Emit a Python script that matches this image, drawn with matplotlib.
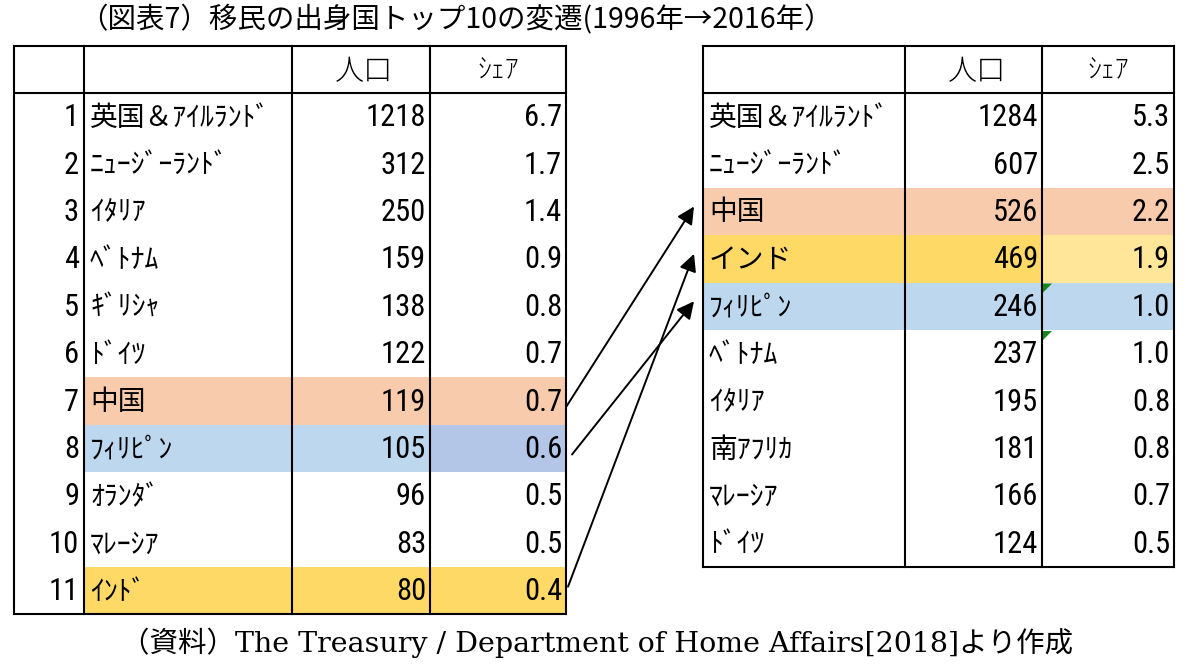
import matplotlib.pyplot as plt
from matplotlib.patches import Rectangle, Polygon

# -----------------------------
# Data
# -----------------------------
title = "（図表7）移民の出身国トップ10の変遷(1996年→2016年）"
source = "（資料）The Treasury / Department of Home Affairs[2018]より作成"
header_pop = "人口"
header_share = "ｼｪｱ"

ranks_1996 = [1, 2, 3, 4, 5, 6, 7, 8, 9, 10, 11]
names_1996 = ["英国＆ｱｲﾙﾗﾝﾄﾞ", "ﾆｭｰｼﾞｰﾗﾝﾄﾞ", "ｲﾀﾘｱ", "ﾍﾞﾄﾅﾑ", "ｷﾞﾘｼｬ", "ﾄﾞｲﾂ",
              "中国", "ﾌｨﾘﾋﾟﾝ", "ｵﾗﾝﾀﾞ", "ﾏﾚｰｼｱ", "ｲﾝﾄﾞ"]
pop_1996 = [1218, 312, 250, 159, 138, 122, 119, 105, 96, 83, 80]
share_1996 = [6.7, 1.7, 1.4, 0.9, 0.8, 0.7, 0.7, 0.6, 0.5, 0.5, 0.4]

names_2016 = ["英国＆ｱｲﾙﾗﾝﾄﾞ", "ﾆｭｰｼﾞｰﾗﾝﾄﾞ", "中国", "インド", "ﾌｨﾘﾋﾟﾝ", "ﾍﾞﾄﾅﾑ",
              "ｲﾀﾘｱ", "南ｱﾌﾘｶ", "ﾏﾚｰｼｱ", "ﾄﾞｲﾂ"]
pop_2016 = [1284, 607, 526, 469, 246, 237, 195, 181, 166, 124]
share_2016 = [5.3, 2.5, 2.2, 1.9, 1.0, 1.0, 0.8, 0.8, 0.7, 0.5]

# which 1996 row moved to which 2016 row (0-based)
links = [(6, 2), (7, 4), (10, 3)]

# -----------------------------
# Styles
# -----------------------------
ORANGE = "#F8CBAD"
BLUE = "#BDD7EE"
BLUE2 = "#B4C6E7"
YELLOW = "#FFD966"
YELLOW2 = "#FFE699"

# row -> colours for (name, pop, share)
hl_1996 = {6: (ORANGE, ORANGE, ORANGE), 7: (BLUE, BLUE, BLUE2), 10: (YELLOW, YELLOW, YELLOW)}
hl_2016 = {2: (ORANGE, ORANGE, ORANGE), 3: (YELLOW, YELLOW, YELLOW2), 4: (BLUE, BLUE, BLUE)}
flag_rows_2016 = [4, 5]  # excel green corner marks in share column

JP = ["Noto Sans CJK JP", "DejaVu Sans"]
NUM = ["Roboto Condensed", "Noto Sans CJK JP", "DejaVu Sans"]
SERIF = ["DejaVu Serif", "Noto Sans CJK JP"]

# layout (pixels)
LEFT_X = [14, 84, 292, 430, 566]
RIGHT_X = [703, 905, 1042, 1174]
TOP = 46
HEAD = 93
ROW_H = 47.4
LW = 1.5

fig = plt.figure(figsize=(12, 6.67), dpi=100)
ax = fig.add_axes([0, 0, 1, 1])
ax.set_xlim(0, 1200)
ax.set_ylim(667, 0)
ax.axis("off")


def row_y(i):
    return HEAD + (i + 0.5) * ROW_H


def draw_table(xs, names, pops, shares, highlights, ranks=None):
    # xs: column edges; name/pop/share are the last three columns
    x_name, x_pop, x_share, x_end = xs[-4], xs[-3], xs[-2], xs[-1]
    n = len(names)
    bottom = HEAD + n * ROW_H
    for i, cols in highlights.items():
        y0 = HEAD + i * ROW_H
        for (a, b), c in zip([(x_name, x_pop), (x_pop, x_share), (x_share, x_end)], cols):
            ax.add_patch(Rectangle((a, y0), b - a, ROW_H, color=c, lw=0, zorder=1))
    # grid
    for x in xs:
        ax.plot([x, x], [TOP, bottom], color="black", lw=LW, zorder=3)
    for y in (TOP, HEAD, bottom):
        ax.plot([xs[0], xs[-1]], [y, y], color="black", lw=LW, zorder=3)
    # header
    ax.text((x_pop + x_share) / 2 + 3, (TOP + HEAD) / 2 + 2, header_pop, family=JP,
            fontsize=21, fontweight="light", ha="center", va="center", zorder=4)
    ax.text((x_share + x_end) / 2, (TOP + HEAD) / 2 + 1, header_share, family=JP,
            fontsize=20, fontweight="light", ha="center", va="center", zorder=4)
    for i in range(n):
        y = row_y(i)
        if ranks is not None:
            ax.text(xs[1] - 5, y + 1, str(ranks[i]), family=NUM, fontsize=22,
                    ha="right", va="center", zorder=4)
        ax.text(x_name + 6, y + 1, names[i], family=JP, fontsize=20,
                ha="left", va="center", zorder=4)
        ax.text(x_share - 4, y + 1, str(pops[i]), family=NUM, fontsize=22,
                ha="right", va="center", zorder=4)
        ax.text(x_end - 4, y + 1, f"{shares[i]:.1f}", family=NUM, fontsize=22,
                ha="right", va="center", zorder=4)
    return bottom


draw_table(LEFT_X, names_1996, pop_1996, share_1996, hl_1996, ranks_1996)
draw_table(RIGHT_X, names_2016, pop_2016, share_2016, hl_2016)

# green corner marks
for i in flag_rows_2016:
    x0 = RIGHT_X[2] + 1
    y0 = HEAD + i * ROW_H + 1
    ax.add_patch(Polygon([(x0, y0), (x0 + 9, y0), (x0, y0 + 9)], closed=True,
                         color="#13861E", lw=0, zorder=5))

# arrows
start_offsets = {6: (0, 6), 7: (6, 6), 10: (2, -4)}
for i_old, i_new in links:
    dx, dy = start_offsets.get(i_old, (0, 0))
    start = (LEFT_X[-1] + dx, row_y(i_old) + dy)
    end = (RIGHT_X[0] - 9, row_y(i_new) - 5)
    ax.annotate("", xy=end, xytext=start,
                arrowprops=dict(arrowstyle="-|>", color="black", lw=1.4,
                                mutation_scale=26, shrinkA=0, shrinkB=0),
                zorder=6)

# titles
ax.text(456, 20, title, family=JP, fontsize=20.5, ha="center", va="center")
ax.text(597, 643, source, family=SERIF, fontsize=20.5, ha="center", va="center")

fig.savefig("out.png", dpi=100)
